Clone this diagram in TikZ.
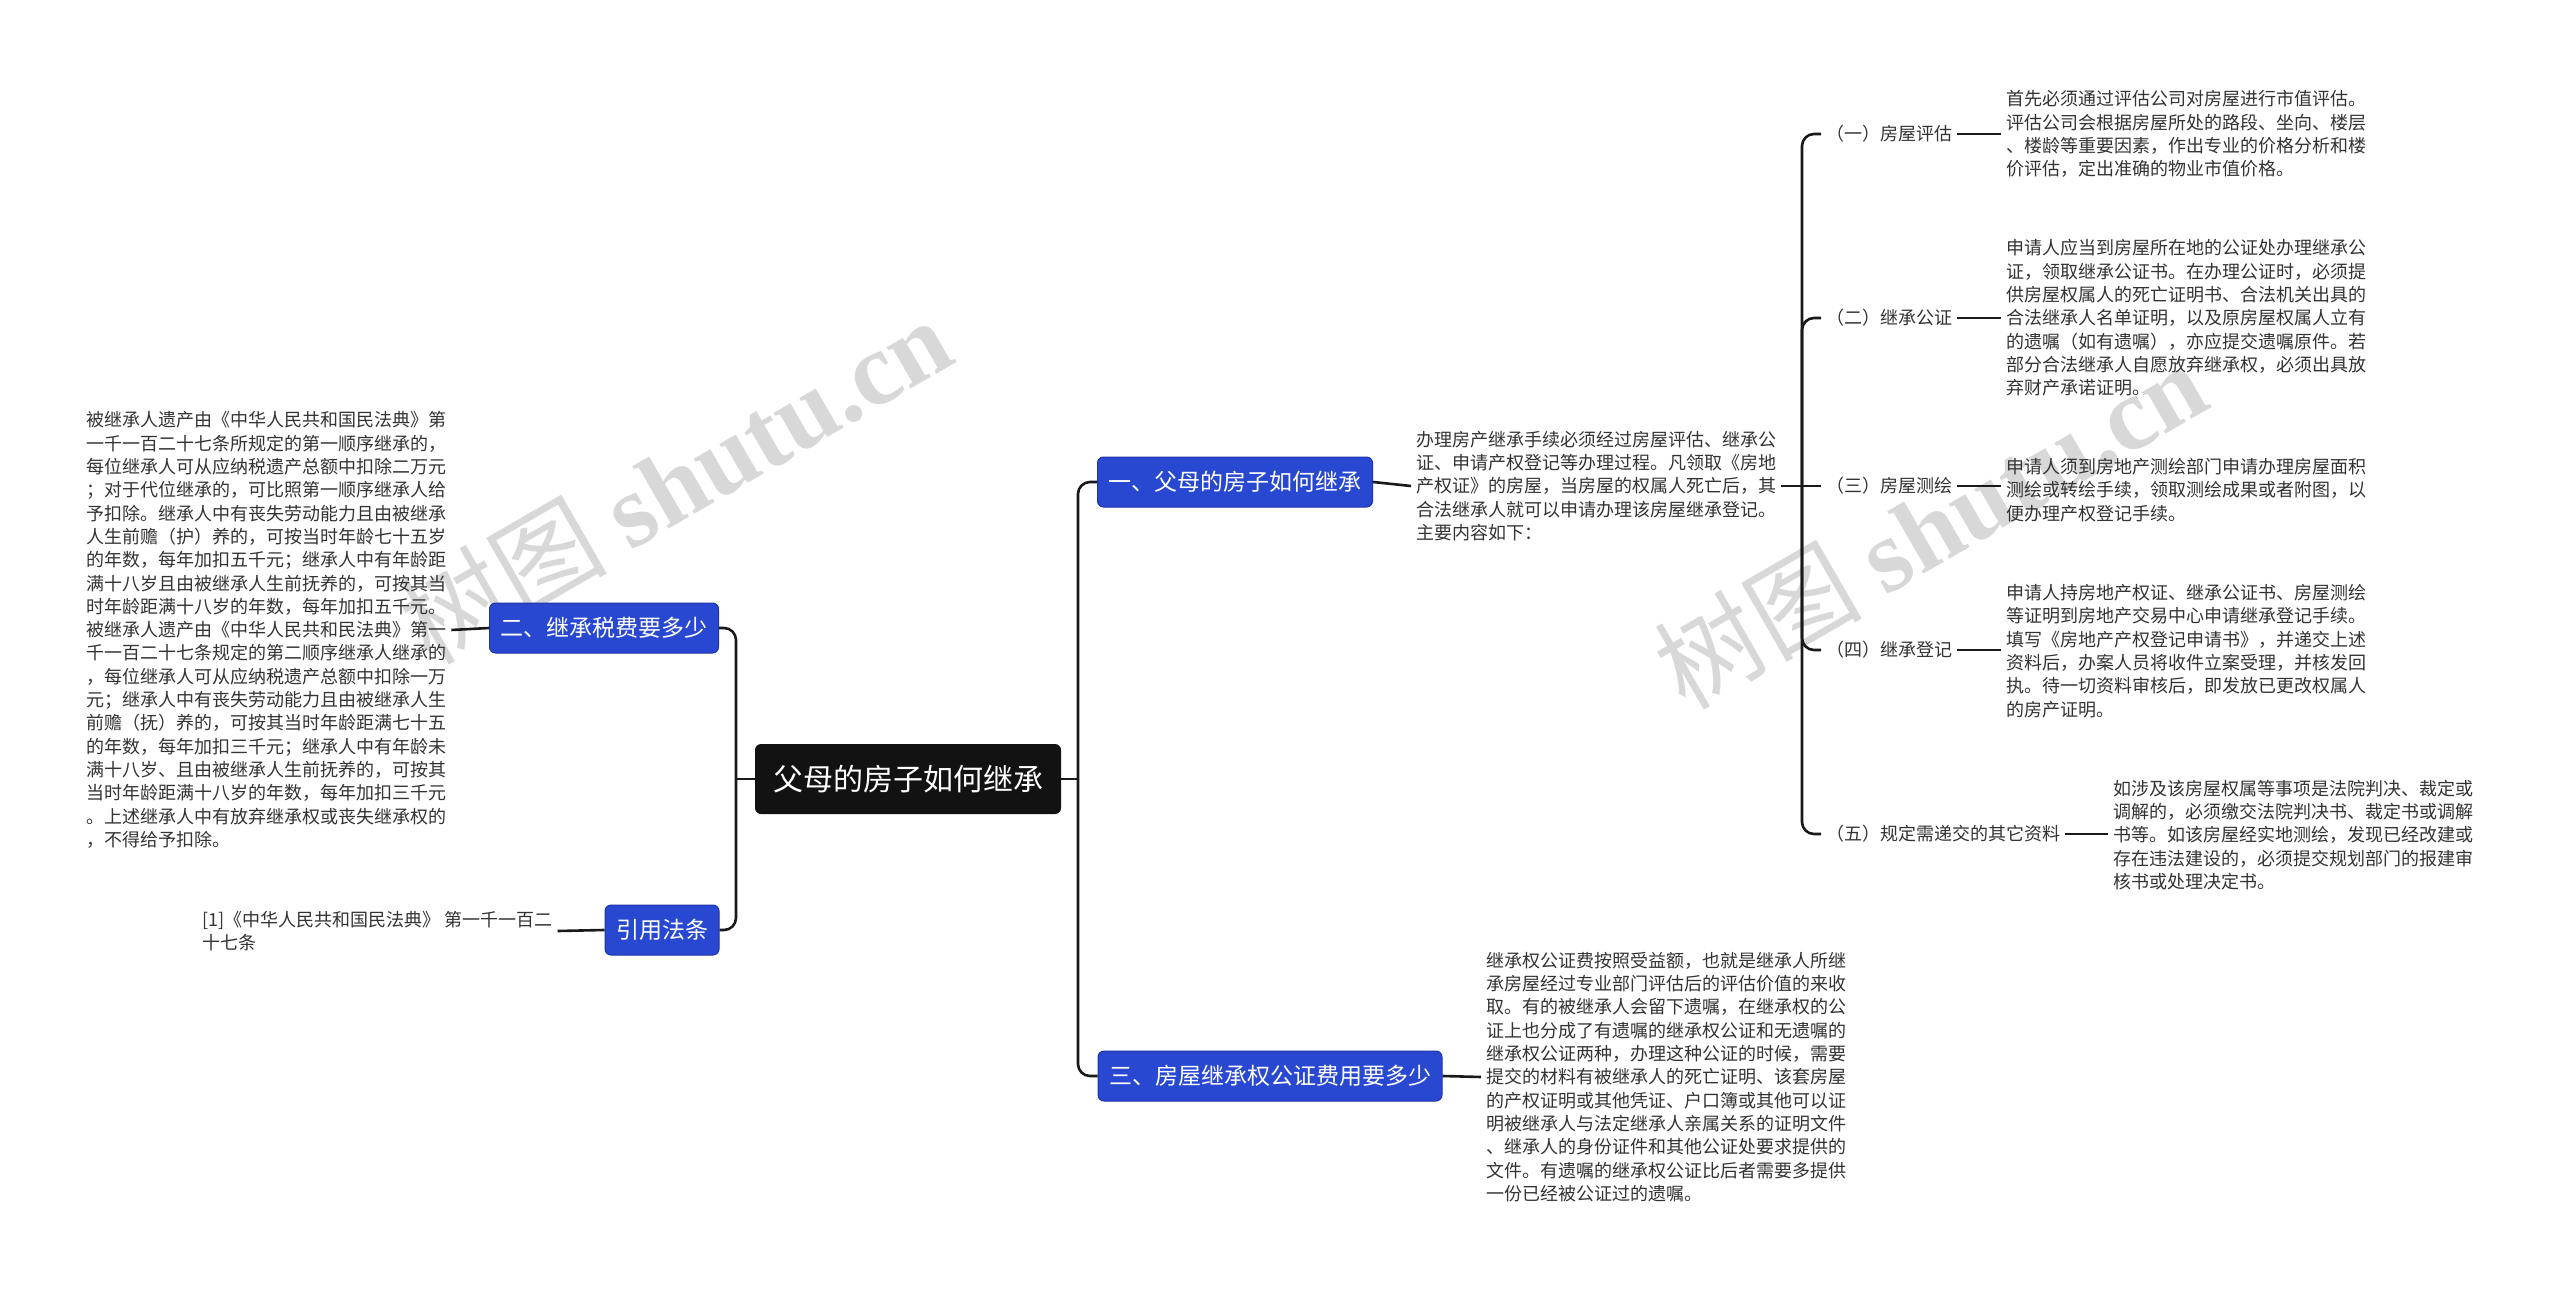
\documentclass[tikz,border=0pt]{standalone}
\usepackage{fontspec}
\setmainfont{Noto Sans CJK SC}
\newfontfamily\wmlatin{Liberation Serif}
\definecolor{txt}{HTML}{333333}
\definecolor{blu}{RGB}{40,72,210}
\definecolor{bluedge}{RGB}{28,52,170}
\definecolor{wm}{HTML}{D8D8D8}
\begin{document}
\begin{tikzpicture}[x=1pt,y=-1pt,
  conn/.style={line width=2.6pt, draw=black!90, rounded corners=12pt},
  rootbox/.style={fill=black!93, text=white, rounded corners=6pt, font=\fontsize{30}{36}\selectfont, minimum height=70pt, inner xsep=18pt},
  topic/.style={fill=blu, draw=bluedge, line width=1pt, text=white, rounded corners=6pt, font=\fontsize{23}{28}\selectfont, minimum height=50pt, inner xsep=11pt},
  body/.style={text=txt, align=left, font=\fontsize{18}{23.3}\selectfont, inner sep=5pt, anchor=west},
  lab/.style={text=txt, font=\fontsize{18}{23.3}\selectfont, inner sep=5pt, anchor=west},
  wmk/.style={text=wm, rotate=30, font=\fontsize{104}{120}\selectfont}
]
\fill[white] (0,0) rectangle (2560,1289);
\useasboundingbox (0,0) rectangle (2560,1289);

% watermarks
\node[wmk] (wm1) at (675,480) {树图 {\wmlatin\bfseries shutu.cn}};
\node[wmk] (wm2) at (1930,525) {树图 {\wmlatin\bfseries shutu.cn}};

% main nodes
\node[rootbox] (c) at (908,779) {父母的房子如何继承};
\node[topic] (n1) at (1235,482) {一、父母的房子如何继承};
\node[topic] (n2) at (604,628) {二、继承税费要多少};
\node[topic] (nr) at (662,930) {引用法条};
\node[topic] (n3) at (1270,1076) {三、房屋继承权公证费用要多少};

% text blocks
\node[body] (t1) at (1411,486) {办理房产继承手续必须经过房屋评估、继承公\\证、申请产权登记等办理过程。凡领取《房地\\产权证》的房屋，当房屋的权属人死亡后，其\\合法继承人就可以申请办理该房屋继承登记。\\主要内容如下：};

\node[body] (t2) at (81,630) {被继承人遗产由《中华人民共和国民法典》第\\一千一百二十七条所规定的第一顺序继承的，\\每位继承人可从应纳税遗产总额中扣除二万元\\；对于代位继承的，可比照第一顺序继承人给\\予扣除。继承人中有丧失劳动能力且由被继承\\人生前赡（护）养的，可按当时年龄七十五岁\\的年数，每年加扣五千元；继承人中有年龄距\\满十八岁且由被继承人生前抚养的，可按其当\\时年龄距满十八岁的年数，每年加扣五千元。\\被继承人遗产由《中华人民共和民法典》第一\\千一百二十七条规定的第二顺序继承人继承的\\，每位继承人可从应纳税遗产总额中扣除一万\\元；继承人中有丧失劳动能力且由被继承人生\\前赡（抚）养的，可按其当时年龄距满七十五\\的年数，每年加扣三千元；继承人中有年龄未\\满十八岁、且由被继承人生前抚养的，可按其\\当时年龄距满十八岁的年数，每年加扣三千元\\。上述继承人中有放弃继承权或丧失继承权的\\，不得给予扣除。};

\node[body] (tr) at (197,931) {[1]《中华人民共和国民法典》 第一千一百二\\十七条};

\node[body] (t3) at (1481,1077) {继承权公证费按照受益额，也就是继承人所继\\承房屋经过专业部门评估后的评估价值的来收\\取。有的被继承人会留下遗嘱，在继承权的公\\证上也分成了有遗嘱的继承权公证和无遗嘱的\\继承权公证两种，办理这种公证的时候，需要\\提交的材料有被继承人的死亡证明、该套房屋\\的产权证明或其他凭证、户口簿或其他可以证\\明被继承人与法定继承人亲属关系的证明文件\\、继承人的身份证件和其他公证处要求提供的\\文件。有遗嘱的继承权公证比后者需要多提供\\一份已经被公证过的遗嘱。};

% sub labels
\node[lab] (la) at (1821,134) {（一）房屋评估};
\node[lab] (lb) at (1821,318) {（二）继承公证};
\node[lab] (lc) at (1821,486) {（三）房屋测绘};
\node[lab] (ld) at (1821,650) {（四）继承登记};
\node[lab] (le) at (1821,834) {（五）规定需递交的其它资料};

\node[body] (ta) at (2001,134) {首先必须通过评估公司对房屋进行市值评估。\\评估公司会根据房屋所处的路段、坐向、楼层\\、楼龄等重要因素，作出专业的价格分析和楼\\价评估，定出准确的物业市值价格。};
\node[body] (tb) at (2001,318) {申请人应当到房屋所在地的公证处办理继承公\\证，领取继承公证书。在办理公证时，必须提\\供房屋权属人的死亡证明书、合法机关出具的\\合法继承人名单证明，以及原房屋权属人立有\\的遗嘱（如有遗嘱），亦应提交遗嘱原件。若\\部分合法继承人自愿放弃继承权，必须出具放\\弃财产承诺证明。};
\node[body] (tc) at (2001,490) {申请人须到房地产测绘部门申请办理房屋面积\\测绘或转绘手续，领取测绘成果或者附图，以\\便办理产权登记手续。};
\node[body] (td) at (2001,651) {申请人持房地产权证、继承公证书、房屋测绘\\等证明到房地产交易中心申请继承登记手续。\\填写《房地产产权登记申请书》，并递交上述\\资料后，办案人员将收件立案受理，并核发回\\执。待一切资料审核后，即发放已更改权属人\\的房产证明。};
\node[body] (te) at (2108,835) {如涉及该房屋权属等事项是法院判决、裁定或\\调解的，必须缴交法院判决书、裁定书或调解\\书等。如该房屋经实地测绘，发现已经改建或\\存在违法建设的，必须提交规划部门的报建审\\核书或处理决定书。};

% junctions
\coordinate (jR) at (1078,779);
\coordinate (jL) at (736,779);
\coordinate (j1) at (1802,486);

% connectors
\draw[conn] (c.east) -- (jR);
\draw[conn] (jR) |- (n1.west);
\draw[conn] (jR) |- (n3.west);
\draw[conn] (c.west) -- (jL);
\draw[conn] (jL) |- (n2.east);
\draw[conn] (jL) |- (nr.east);

\draw[conn] (n1.east) -- (t1.west);
\draw[conn] (n2.west) -- (t2.east);
\draw[conn] (nr.west) -- (tr.east);
\draw[conn] (n3.east) -- (t3.west);

\draw[conn] (t1.east) -- (j1);
\draw[conn] (j1) |- (la.west);
\draw[conn] (j1) |- (lb.west);
\draw[conn] (j1) -- (lc.west);
\draw[conn] (j1) |- (ld.west);
\draw[conn] (j1) |- (le.west);

\draw[conn] (la.east) -- (ta.west);
\draw[conn] (lb.east) -- (tb.west);
\draw[conn] (lc.east) -- (tc.west |- lc.east);
\draw[conn] (ld.east) -- (td.west |- ld.east);
\draw[conn] (le.east) -- (te.west |- le.east);
\end{tikzpicture}
\end{document}
